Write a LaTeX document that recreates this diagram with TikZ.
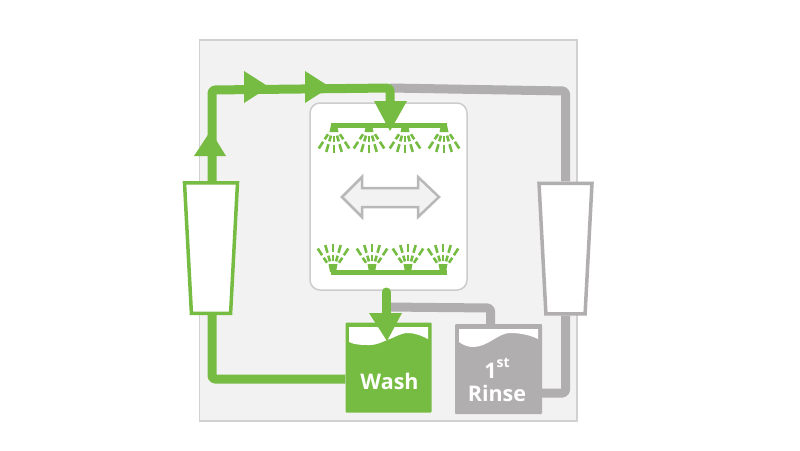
\documentclass[tikz,border=0pt]{standalone}
\usepackage{fontspec}
\setmainfont{Open Sans}
\usetikzlibrary{shapes.geometric}
\definecolor{washgreen}{HTML}{76BC43}
\definecolor{rinsegray}{HTML}{B0AEAE}
\tikzset{
  pipe/.style={line width=9pt,line join=round},
  pump/.style={trapezium,shape border rotate=180,trapezium stretches=true,trapezium angle=80,
    minimum width=53pt,minimum height=130.5pt,inner sep=2pt,fill=white,line width=3.5pt},
  tank/.style={rectangle,minimum width=86pt,minimum height=90pt,rounded corners=1pt,inner sep=0pt},
  tanklabel/.style={text=white,font=\bfseries\fontsize{21.5}{26}\selectfont,align=center},
  jet/.style={line width=2.6pt}
}
\begin{document}
\begin{tikzpicture}[x=1pt,y=-1pt]
\useasboundingbox (0,0) rectangle (800,450);

\draw[draw=black!18,fill=black!5,line width=1.5pt] (199.5,40) rectangle (577,421);
\draw[draw=black!20,fill=white,line width=1.5pt,rounded corners=10pt] (310,103) rectangle (467,290);

\node[tank,fill=washgreen] (wash) at (388.5,367.5) {};
\node[tank,fill=rinsegray,minimum width=87pt] (rinse) at (498.5,369) {};
\node[pump,draw=washgreen] (leftpump) at (211,248) {};
\node[pump,draw=rinsegray] (rightpump) at (565.5,248.5) {};

\coordinate (bendbl) at (212,379);
\coordinate (bendtl) at (212,90);
\coordinate (tee) at (390,88);
\coordinate (spray) at (390,122);
\coordinate (bendtr) at (565.5,91);
\coordinate (bendbr) at (565.5,393);
\coordinate (drain) at (386,292);
\coordinate (tankin) at (386,330);
\coordinate (branch) at (386,307);
\coordinate (bendrinse) at (490.5,308);

% gray lines
\begin{scope}[rinsegray,pipe]
\draw[rounded corners=3pt] (tee) -- (bendtr) -- (bendtr |- rightpump.north);
\draw[rounded corners=3pt] (bendbr |- rightpump.south) -- (bendbr) -- (rinse.east |- bendbr);
\draw[rounded corners=3pt] (branch) -- (bendrinse) -- (bendrinse |- rinse.north);
\end{scope}

% green lines
\begin{scope}[washgreen,pipe]
\draw[rounded corners=3pt] (wash.west |- bendbl) -- (bendbl) -- (bendbl |- leftpump.south);
\draw[rounded corners=3pt] (bendtl |- leftpump.north) -- (bendtl) -- (tee) -- (spray);
\draw[line cap=round] (drain) -- (tankin);
\end{scope}

% water in the tanks
\fill[white] (349,327) -- (428,327) -- (428,339) .. controls (420,335) and (414,333) .. (408,333)
  .. controls (400,333) and (394,338) .. (387,340) .. controls (380,343) and (376,345) .. (370,345)
  .. controls (362,345) and (355,345) .. (349,342) -- cycle;
\fill[white] (459,329) -- (538,329) -- (538,339) .. controls (530,335) and (520,333) .. (510,333)
  .. controls (498,333) and (488,347) .. (473,347) .. controls (468,347) and (463,345) .. (459,342) -- cycle;

\node[tanklabel] (washlabel) at (389.5,381) {Wash};
\node[tanklabel] (rinselabel) at (497,380) {1\raisebox{.55em}{\fontsize{14}{14}\selectfont st}\\[-3pt]Rinse};

% arrow heads
\begin{scope}[washgreen]
\fill (194,156) -- (226,156) -- (210.5,131) -- cycle;
\foreach \x in {244,305}{
\fill (\x,71) -- (\x,103) -- (\x+25,87) -- cycle;
}
\fill (374,101) -- (407,101) -- (390,131) -- cycle;
\fill (369,313) -- (402,313) -- (387,341) -- cycle;
\end{scope}

% spray bars
\draw[washgreen,line width=5pt] (331,125) -- (447,125);
\draw[washgreen,line width=5pt] (331,272) -- (447,272);

\foreach \x in {334,369,405,444}{
\begin{scope}[shift={(\x,125)},washgreen]
\fill (-3,0) -- (3,0) -- (4.5,7) -- (-4.5,7) -- cycle;
\foreach \a in {-33,-16,0,16,33}{
\draw[jet] (90+\a:11) -- (90+\a:17);
\draw[jet] (90+\a:20) -- (90+\a:28);
}
\end{scope}
}
\foreach \x in {333,372,408,443}{
\begin{scope}[shift={(\x,272)},washgreen]
\fill (-3,0) -- (3,0) -- (4.5,-8) -- (-4.5,-8) -- cycle;
\foreach \a in {-33,-16,0,16,33}{
\draw[jet] (-90+\a:11) -- (-90+\a:17);
\draw[jet] (-90+\a:20) -- (-90+\a:28);
}
\end{scope}
}

% double arrow
\draw[draw=black!28,fill=black!5,line width=2.5pt,line join=miter] (342,197) -- (362,177) -- (362,188) -- (418,188)
  -- (418,177) -- (439,197) -- (418,217) -- (418,207) -- (362,207) -- (362,217) -- cycle;
\end{tikzpicture}
\end{document}
